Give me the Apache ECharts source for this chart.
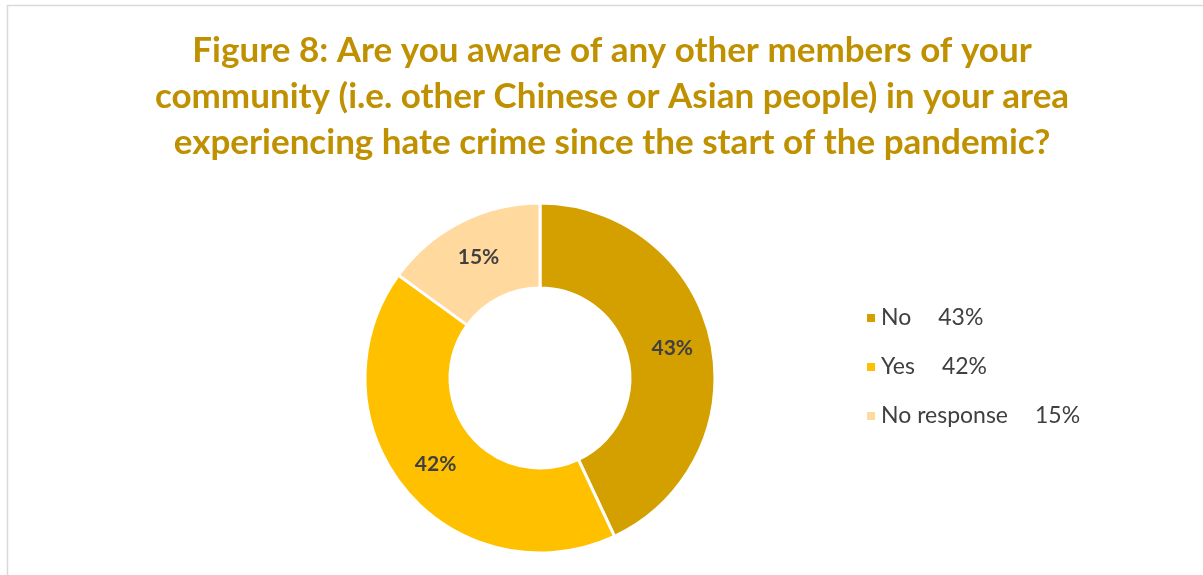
<!DOCTYPE html>
<html><head><meta charset="utf-8">
<script src="https://cdn.jsdelivr.net/npm/echarts@6/dist/echarts.min.js"></script>
<style>html,body{margin:0;padding:0;background:#fff;}#c{width:1203px;height:575px;}</style>
</head><body><div id="c"></div>
<script>
const categories = ['No', 'Yes', 'No response'];
const values = [43, 42, 15];
const colors = ['#D4A000', '#FFC000', '#FFD99E'];
const titleText = 'Figure 8: Are you aware of any other members of your\ncommunity (i.e. other Chinese or Asian people) in your area\nexperiencing hate crime since the start of the pandemic?';

const chart = echarts.init(document.getElementById('c'), null, {renderer: 'canvas'});
chart.setOption({
  animation: false,
  graphic: [{
    type: 'rect', silent: true,
    shape: {x: 7.5, y: 5.5, width: 1400, height: 800},
    style: {fill: 'none', stroke: '#d9d9d9', lineWidth: 1.5}
  }],
  title: {
    text: titleText, left: 607, top: 23, textAlign: 'center',
    textStyle: {fontFamily: 'Lato', fontWeight: 'bold', fontSize: 35, color: '#BF9000', lineHeight: 46}
  },
  legend: {
    orient: 'vertical', left: 860, top: 301, itemGap: 25,
    itemWidth: 10, itemHeight: 10, icon: 'rect',
    textStyle: {
      fontFamily: 'Lato', fontSize: 23, color: '#404040', lineHeight: 24,
      rich: {
        n: {fontFamily: 'Lato', fontSize: 23, color: '#404040', lineHeight: 24},
        v: {fontFamily: 'Lato', fontSize: 23, color: '#404040', lineHeight: 24, padding: [0, 0, 0, 27]}
      }
    },
    formatter: function (name) {
      const i = categories.indexOf(name);
      return '{n|' + name + '}{v|' + values[i] + '%}';
    }
  },
  series: [{
    type: 'pie', center: [540, 378], radius: [90, 175],
    startAngle: 90, clockwise: true,
    itemStyle: {borderColor: '#fff', borderWidth: 3},
    label: {
      position: 'inside', formatter: '{d}%',
      fontFamily: 'Lato', fontWeight: 'bold', fontSize: 21, color: '#404040'
    },
    labelLine: {show: false},
    data: categories.map((c, i) => ({name: c, value: values[i], itemStyle: {color: colors[i]}}))
  }]
});
</script></body></html>
